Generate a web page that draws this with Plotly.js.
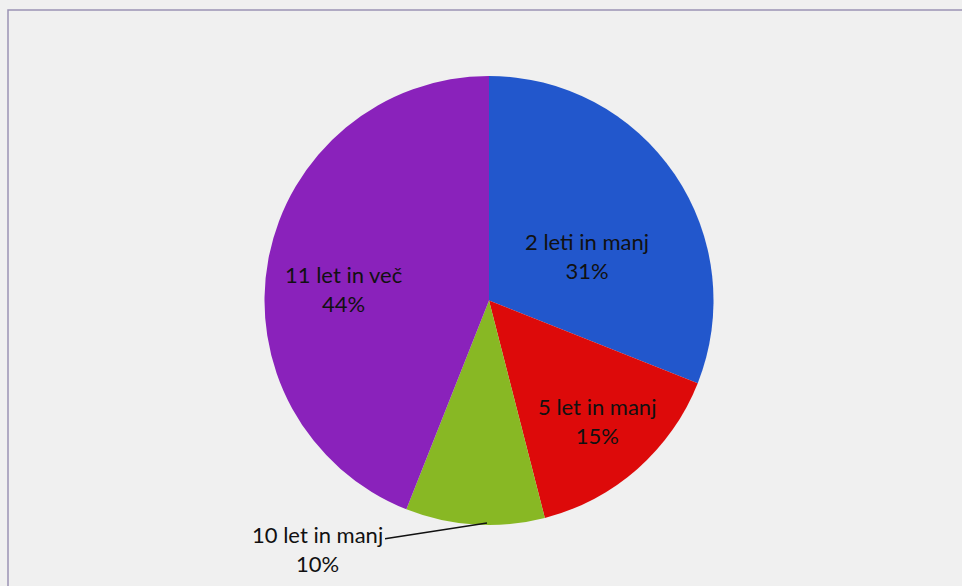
<!DOCTYPE html>
<html>
<head>
<meta charset="utf-8">
<script src="https://cdn.plot.ly/plotly-3.0.1.min.js"></script>
<style>html,body{margin:0;padding:0;background:#f0f0f0;}#chart{width:962px;height:586px;}</style>
</head>
<body>
<div id="chart"></div>
<script>
var categories = ['2 leti in manj', '5 let in manj', '10 let in manj', '11 let in več'];
var values = [31, 15, 10, 44];
var colors = ['#2257cc', '#dd0a0a', '#88b824', '#8a22bb'];

var W = 962, H = 586;
// label anchor positions in pixels (layout only)
var labelPos = [[587, 256], [597, 421], [318, 549], [343, 289]];
var outIdx = 2;

var trace = {
  type: 'pie',
  labels: categories,
  values: values,
  sort: false,
  direction: 'clockwise',
  rotation: 0,
  marker: {colors: colors, line: {width: 0}},
  textinfo: 'none',
  hoverinfo: 'label+percent',
  showlegend: false,
  domain: {x: [16 / W, 1], y: [(H - 525) / H, (H - 76) / H]}
};

var font = {family: 'Lato, "Open Sans", sans-serif', size: 22, color: '#111'};
var annotations = categories.map(function (c, i) {
  var a = {
    xref: 'paper', yref: 'paper',
    text: c + '<br>' + values[i] + '%',
    font: font, align: 'center',
    showarrow: false,
    x: labelPos[i][0] / W, y: 1 - labelPos[i][1] / H,
    xanchor: 'center', yanchor: 'middle'
  };
  if (i === outIdx) {
    a.showarrow = true;
    a.arrowhead = 0; a.arrowwidth = 1.5; a.arrowcolor = '#111';
    a.x = 487 / W; a.y = 1 - 523 / H;
    a.ax = labelPos[i][0] - 487; a.ay = labelPos[i][1] - 523;
    delete a.xanchor; delete a.yanchor;
  }
  return a;
});

var layout = {
  width: W, height: H,
  margin: {l: 0, r: 0, t: 0, b: 0},
  paper_bgcolor: '#f0f0f0',
  plot_bgcolor: '#f0f0f0',
  showlegend: false,
  shapes: [{
    type: 'rect', xref: 'paper', yref: 'paper',
    x0: 8 / W, x1: 1.05, y0: -0.05, y1: 1 - 10 / H,
    line: {color: '#9a92b4', width: 1.5}, fillcolor: 'rgba(0,0,0,0)'
  }],
  annotations: annotations
};

Plotly.newPlot('chart', [trace], layout, {displayModeBar: false, staticPlot: true});
</script>
</body>
</html>
